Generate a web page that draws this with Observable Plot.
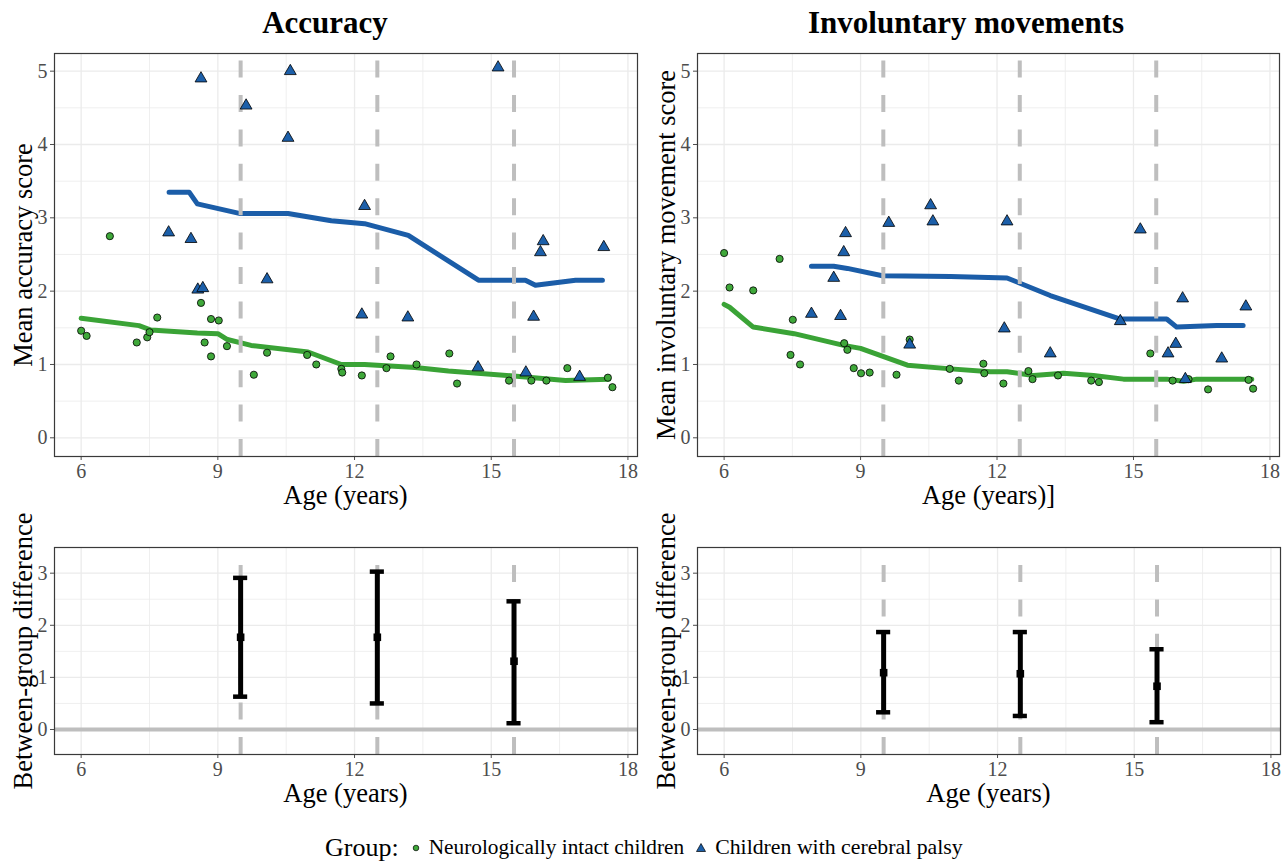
<!DOCTYPE html>
<html>
<head>
<meta charset="utf-8">
<script src="https://cdn.jsdelivr.net/npm/d3@7"></script>
<script src="https://cdn.jsdelivr.net/npm/@observablehq/plot@0.6"></script>
<style>
  body { margin: 0; background: #fff; }
  #root { position: relative; width: 1287px; height: 864px; overflow: hidden; background: #fff;
          font-family: "Liberation Serif", "Times New Roman", serif; color: #000; }
  #root svg, #root svg text { font-family: "Liberation Serif", "Times New Roman", serif !important; }
  .abs { position: absolute; white-space: nowrap; line-height: 1; }
</style>
</head>
<body>
<div id="root"></div>
<script>
// ---------- data ----------
const panelTitles = ["Accuracy", "Involuntary movements"];
const xTitles = ["Age (years)", "Age (years)]", "Age (years)", "Age (years)"];
const yTitles = ["Mean accuracy score", "Mean involuntary movement score", "Between-group difference", "Between-group difference"];
const groupNames = ["Neurologically intact children", "Children with cerebral palsy"];

const cutAges = [9.5, 12.5, 15.5];
const xTicks = [6, 9, 12, 15, 18];
const xMinor = [7.5, 10.5, 13.5, 16.5];
const topYTicks = [0, 1, 2, 3, 4, 5];
const topYMinor = [0.5, 1.5, 2.5, 3.5, 4.5];
const diffYTicks = [0, 1, 2, 3];
const diffYMinor = [0.5, 1.5, 2.5];

// Neurologically intact children — accuracy
const niAgeAcc = [6.0, 6.12, 6.63, 7.22, 7.45, 7.5, 7.67, 8.63, 8.71, 8.85, 8.85, 9.02, 9.2, 9.79, 10.08, 10.96, 11.16, 11.71, 11.73, 12.16, 12.7, 12.79, 13.36, 14.08, 14.25, 15.39, 15.88, 16.21, 16.67, 17.56, 17.66];
const niAcc    = [1.46, 1.39, 2.75, 1.30, 1.37, 1.44, 1.64, 1.84, 1.30, 1.62, 1.11, 1.60, 1.25, 0.86, 1.16, 1.13, 1.00, 0.94, 0.89, 0.85, 0.95, 1.11, 1.00, 1.15, 0.74, 0.78, 0.78, 0.78, 0.95, 0.82, 0.69];
// Neurologically intact children — involuntary movements
const niAgeInv = [6.0, 6.12, 6.64, 7.22, 7.46, 7.51, 7.67, 8.64, 8.71, 8.85, 9.01, 9.2, 9.79, 10.08, 10.96, 11.16, 11.7, 11.72, 12.14, 12.69, 12.78, 13.34, 14.07, 14.24, 15.37, 15.86, 16.21, 16.64, 17.53, 17.63];
const niInv    = [2.52, 2.05, 2.01, 2.44, 1.13, 1.61, 1.00, 1.29, 1.20, 0.95, 0.88, 0.89, 0.86, 1.34, 0.94, 0.78, 1.01, 0.88, 0.74, 0.91, 0.80, 0.85, 0.78, 0.76, 1.15, 0.78, 0.80, 0.66, 0.79, 0.67];
// Children with cerebral palsy
const cpAge = [7.92, 8.41, 8.56, 8.63, 8.67, 9.62, 10.08, 10.54, 10.59, 12.16, 12.22, 13.17, 14.71, 15.15, 15.76, 15.93, 16.08, 16.14, 16.94, 17.47];
const cpAcc = [2.80, 2.71, 2.02, 4.90, 2.04, 4.53, 2.16, 4.09, 5.00, 1.68, 3.16, 1.64, 0.96, 5.05, 0.89, 1.65, 2.53, 2.68, 0.83, 2.60];
const cpInv = [1.69, 2.18, 1.66, 2.53, 2.79, 2.93, 1.27, 3.17, 2.95, 1.49, 2.95, 1.15, 1.59, 2.84, 1.15, 1.28, 1.90, 0.80, 1.08, 1.79];

// smoothed group trajectories
const niFitAgeAcc = [6.0, 7.27, 7.53, 8.55, 9.0, 9.21, 9.73, 10.98, 11.71, 12.22, 13.33, 14.06, 15.75, 16.63, 17.58];
const niFitAcc    = [1.63, 1.53, 1.47, 1.43, 1.42, 1.34, 1.26, 1.17, 1.00, 1.00, 0.96, 0.91, 0.83, 0.78, 0.80];
const cpFitAgeAcc = [7.93, 8.37, 8.55, 9.47, 10.54, 11.49, 12.22, 13.18, 14.72, 15.75, 15.97, 16.85, 17.44];
const cpFitAcc    = [3.35, 3.35, 3.19, 3.06, 3.06, 2.96, 2.92, 2.76, 2.15, 2.15, 2.08, 2.15, 2.15];
const niFitAgeInv = [6.0, 6.12, 6.64, 7.54, 8.63, 9.0, 10.03, 10.98, 11.85, 12.22, 12.8, 13.46, 14.12, 14.78, 15.73, 16.1, 16.39, 17.6];
const niFitInv    = [1.82, 1.78, 1.51, 1.42, 1.26, 1.22, 0.99, 0.94, 0.90, 0.90, 0.85, 0.88, 0.85, 0.80, 0.80, 0.77, 0.80, 0.80];
const cpFitAgeInv = [7.92, 8.41, 8.71, 9.48, 10.98, 12.22, 13.17, 14.71, 15.73, 15.95, 16.83, 17.41];
const cpFitInv    = [2.34, 2.34, 2.31, 2.21, 2.20, 2.18, 1.94, 1.62, 1.62, 1.51, 1.53, 1.53];

// between-group differences (estimate, CI) at the cut ages
const accDiff = [1.77, 1.77, 1.31];
const accLo   = [0.63, 0.50, 0.12];
const accHi   = [2.91, 3.03, 2.46];
const invDiff = [1.09, 1.07, 0.83];
const invLo   = [0.33, 0.26, 0.14];
const invHi   = [1.87, 1.87, 1.54];

// ---------- styling ----------
const FONT = '"Liberation Serif", "Times New Roman", serif';
const GREEN_LINE = "#3aa336", GREEN_PT = "#3fa83a";
const BLUE_LINE = "#1b5da8", BLUE_PT = "#1c5fa9";
const GRID = "#ebebeb", REF = "#bebebe";
const xDomain = [5.415, 18.21];
const topYDomain = [-0.255, 5.241];
const diffYDomain = [-0.48, 3.493];
const capHalf = 0.155;

const root = document.getElementById("root");
const zip = (xs, ys) => xs.map((x, i) => ({x, y: ys[i]}));

function addText(txt, cx, cy, size, opts = {}) {
  const d = document.createElement("div");
  d.className = "abs";
  d.textContent = txt;
  d.style.left = cx + "px";
  d.style.top = cy + "px";
  d.style.fontSize = size + "px";
  if (opts.bold) d.style.fontWeight = "bold";
  d.style.transform = "translate(-50%,-50%)" + (opts.rotate ? " rotate(-90deg)" : "");
  root.appendChild(d);
}

function panel({left, top, w, h, yDomain, yTicks, yMinor, marks}) {
  const mL = 50, mR = 8, mT = 6, mB = 40;
  const svg = Plot.plot({
    width: w + mL + mR, height: h + mT + mB,
    marginLeft: mL, marginRight: mR, marginTop: mT, marginBottom: mB,
    style: {fontFamily: FONT, fontSize: "20px", color: "#4d4d4d", background: "transparent", overflow: "visible"},
    x: {domain: xDomain, ticks: xTicks, tickSize: 4, tickPadding: 3, tickFormat: d => String(d), label: null},
    y: {domain: yDomain, ticks: yTicks, tickSize: 4, tickPadding: 3, tickFormat: d => String(d), label: null},
    marks: [
      Plot.ruleX(xMinor, {stroke: GRID, strokeWidth: 0.8}),
      Plot.ruleY(yMinor, {stroke: GRID, strokeWidth: 0.8}),
      Plot.ruleX(xTicks, {stroke: GRID, strokeWidth: 1.3}),
      Plot.ruleY(yTicks, {stroke: GRID, strokeWidth: 1.3}),
      ...marks(yDomain),
      Plot.frame({stroke: "#3a3a3a", strokeWidth: 1.2})
    ]
  });
  svg.style.position = "absolute";
  svg.style.left = (left - mL) + "px";
  svg.style.top = (top - mT) + "px";
  root.appendChild(svg);
}

const dashed = (yd) => Plot.ruleX(cutAges, {y1: () => yd[0], y2: () => yd[1], stroke: REF, strokeWidth: 4, strokeDasharray: "17,17.4"});

function topMarks(niA, niV, cpV, niFA, niFV, cpFA, cpFV) {
  return (yd) => [
    Plot.line(zip(niFA, niFV), {x: "x", y: "y", stroke: GREEN_LINE, strokeWidth: 5}),
    Plot.line(zip(cpFA, cpFV), {x: "x", y: "y", stroke: BLUE_LINE, strokeWidth: 5}),
    dashed(yd),
    Plot.dot(zip(niA, niV), {x: "x", y: "y", r: 3.6, fill: GREEN_PT, stroke: "#000", strokeWidth: 0.8}),
    Plot.dot(zip(cpAge, cpV), {x: "x", y: "y", symbol: "triangle", r: 4.4, fill: BLUE_PT, stroke: "#000", strokeWidth: 0.8})
  ];
}

function diffMarks(est, lo, hi) {
  const data = cutAges.map((a, i) => ({age: a, est: est[i], lo: lo[i], hi: hi[i]}));
  return (yd) => [
    dashed(yd),
    Plot.ruleY([0], {stroke: REF, strokeWidth: 4}),
    Plot.ruleX(data, {x: "age", y1: "lo", y2: "hi", stroke: "#000", strokeWidth: 5}),
    Plot.ruleY(data, {y: "lo", x1: d => d.age - capHalf, x2: d => d.age + capHalf, stroke: "#000", strokeWidth: 4.5}),
    Plot.ruleY(data, {y: "hi", x1: d => d.age - capHalf, x2: d => d.age + capHalf, stroke: "#000", strokeWidth: 4.5}),
    Plot.dot(data, {x: "age", y: "est", symbol: "square", r: 4.3, fill: "#000"})
  ];
}

const TOP = 53, TOPH = 403, BOT = 547, BOTH = 207, W = 583;
const L1 = 54, L2 = 697;

panel({left: L1, top: TOP, w: W, h: TOPH, yDomain: topYDomain, yTicks: topYTicks, yMinor: topYMinor,
       marks: topMarks(niAgeAcc, niAcc, cpAcc, niFitAgeAcc, niFitAcc, cpFitAgeAcc, cpFitAcc)});
panel({left: L2, top: TOP, w: W - 1, h: TOPH, yDomain: topYDomain, yTicks: topYTicks, yMinor: topYMinor,
       marks: topMarks(niAgeInv, niInv, cpInv, niFitAgeInv, niFitInv, cpFitAgeInv, cpFitInv)});
panel({left: L1, top: BOT, w: W, h: BOTH, yDomain: diffYDomain, yTicks: diffYTicks, yMinor: diffYMinor,
       marks: diffMarks(accDiff, accLo, accHi)});
panel({left: L2, top: BOT, w: W, h: BOTH, yDomain: diffYDomain, yTicks: diffYTicks, yMinor: diffYMinor,
       marks: diffMarks(invDiff, invLo, invHi)});

// titles
addText(panelTitles[0], 325, 22, 31, {bold: true});
addText(panelTitles[1], 966, 22, 31, {bold: true});
// x axis titles
addText(xTitles[0], L1 + W / 2, 494.5, 26.5);
addText(xTitles[1], L2 + W / 2, 494.5, 26.5);
addText(xTitles[2], L1 + W / 2, 793, 26.5);
addText(xTitles[3], L2 + W / 2, 793, 26.5);
// y axis titles
addText(yTitles[0], 23, TOP + TOPH / 2, 26.5, {rotate: true});
addText(yTitles[1], 666, TOP + TOPH / 2, 26.5, {rotate: true});
addText(yTitles[2], 23, BOT + BOTH / 2, 26.5, {rotate: true});
addText(yTitles[3], 666, BOT + BOTH / 2, 26.5, {rotate: true});

// legend
const leg = document.createElement("div");
leg.className = "abs";
leg.style.left = "325px";
leg.style.top = "848px";
leg.style.transform = "translateY(-50%)";
leg.style.display = "flex";
leg.style.alignItems = "center";
leg.innerHTML =
  `<span style="font-size:26px;margin-right:11px">Group:</span>` +
  `<svg width="12" height="12" style="margin-right:7px"><circle cx="6" cy="6" r="2.8" fill="${GREEN_PT}" stroke="#000" stroke-width="0.7"/></svg>` +
  `<span style="font-size:21.3px;margin-right:10px">${groupNames[0]}</span>` +
  `<svg width="14" height="12" style="margin-right:7px"><path d="M7,1.5 L11.5,9.5 L2.5,9.5 Z" fill="${BLUE_PT}" stroke="#000" stroke-width="0.7"/></svg>` +
  `<span style="font-size:21.8px">${groupNames[1]}</span>`;
root.appendChild(leg);
</script>
</body>
</html>
